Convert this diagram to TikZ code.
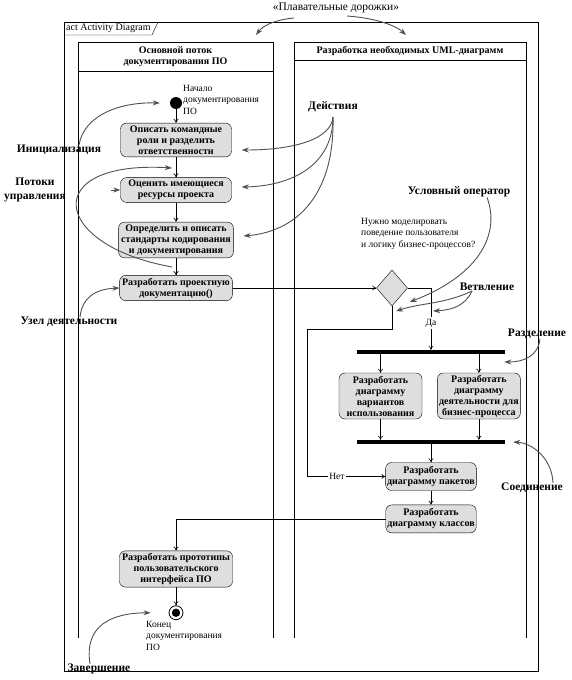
\documentclass[tikz,border=0pt]{standalone}
\usepackage{fontspec}
\setmainfont{Liberation Serif}
\usetikzlibrary{positioning,shapes.geometric,arrows.meta}

\definecolor{actfill}{RGB}{222,222,222}
\definecolor{notegray}{RGB}{80,80,80}

\tikzset{
  action/.style={draw, rounded corners=6pt, fill=actfill, minimum width=111pt,
    align=center, inner sep=2.5pt, font=\bfseries\fontsize{10}{11}\selectfont},
  small/.style={action, minimum width=83pt, minimum height=46pt, inner sep=1.5pt},
  wide/.style={action, minimum width=90pt, minimum height=28pt, inner sep=1.5pt},
  bar/.style={fill=black, minimum width=148pt, minimum height=4pt, inner sep=0pt},
  decision/.style={diamond, draw, fill=actfill, minimum width=31pt, minimum height=36pt, inner sep=0pt},
  initial/.style={circle, fill=black, minimum size=12pt, inner sep=0pt},
  final/.style={circle, draw, line width=0.8pt, minimum size=14pt, inner sep=0pt,
    path picture={\fill (path picture bounding box.center) circle (4.2pt);}},
  lanetitle/.style={align=center, font=\bfseries\fontsize{10}{11}\selectfont},
  note/.style={align=left, inner sep=0pt, font=\fontsize{9.5}{11.5}\selectfont},
  remark/.style={align=center, inner sep=0pt, font=\bfseries\fontsize{11.5}{14}\selectfont},
  flow/.style={-{To[length=4pt,width=5pt]}, line width=0.6pt},
  annot/.style={draw=notegray, line width=0.9pt, -{Stealth[length=7pt,width=5pt]}},
}

\begin{document}
\begin{tikzpicture}[x=1pt, y=-1pt]

  \useasboundingbox (0,0) rectangle (571,680);

  % frame and swim lanes
  \draw [line width=0.8pt] (64,22) rectangle (538,671);
  \draw (64,35) -- (152,35) -- (158,22);
  \node (Tab) [anchor=west, inner sep=1pt, font=\fontsize{10}{12}\selectfont] at (65,28.5) {act Activity Diagram};

  \draw (78,638) -- (78,42) -- (273,42) -- (273,638);
  \draw (78,71) -- (273,71);
  \node (LaneL) [lanetitle] at (175.5,56.5) {Основной поток\\документирования ПО};

  \draw (294,638) -- (294,42) -- (526,42) -- (526,638);
  \draw (294,60) -- (526,60);
  \node (LaneR) [lanetitle] at (410,51) {Разработка необходимых UML-диаграмм};

  % left lane
  \node (S) [initial] at (176,103) {};
  \node (SL) [note, anchor=north west] at (183,85) {Начало\\документирования\\ПО};

  \node (A1) [action] at (176,140) {Описать командные\\роли и разделить\\ответственности};
  \node (A2) [action] at (176,190) {Оценить имеющиеся\\ресурсы проекта};
  \node (A3) [action] at (176,240) {Определить и описать\\стандарты кодирования\\и документирования};
  \node (A4) [action] at (176,288) {Разработать проектную\\документацию()};

  \node (D) [action] at (176,569) {Разработать прототипы\\пользовательского\\интерфейса ПО};
  \node (E) [final, below=18pt of D] {};
  \node (EL) [note, anchor=north west] at (146,621) {Конец\\документирования\\ПО};

  % right lane
  \node (Q) [decision] at (392,288) {};
  \node (QL) [note, anchor=north west] at (361,218) {Нужно моделировать\\поведение пользователя\\и логику бизнес-процессов?};

  \node (F1) [bar] at (431,352) {};
  \node (B1) [small] at (380.5,396) {Разработать\\диаграмму\\вариантов\\использования};
  \node (B2) [small, right=15pt of B1] {Разработать\\диаграмму\\деятельности для\\бизнес-процесса};
  \node (F2) [bar] at (431,442) {};

  \node (C1) [wide] at (431,476.5) {Разработать\\диаграмму пакетов};
  \node (C2) [wide, below=14pt of C1] {Разработать\\диаграмму классов};

  \coordinate (N1) at (307,329);

  % control flows
  \draw [flow] (S) -- (A1);
  \draw [flow] (A1) -- (A2);
  \draw [flow] (A2) -- (A3);
  \draw [flow] (A3) -- (A4);
  \draw [flow] (A4) -- (Q);
  \draw [flow] (Q.east) -| (F1);
  \draw [flow] (B1 |- F1.south) -- (B1);
  \draw [flow] (B2 |- F1.south) -- (B2);
  \draw [flow] (B1) -- (B1 |- F2.north);
  \draw [flow] (B2) -- (B2 |- F2.north);
  \draw [flow] (F2) -- (C1);
  \draw [flow] (Q.south) |- (N1) |- (C1.west);
  \draw [flow] (C1) -- (C2);
  \draw [flow] (C2.west) -| (D.north);
  \draw [flow] (D) -- (E);

  \node (Yes) [fill=white, inner sep=1.5pt, font=\fontsize{9.5}{11}\selectfont] at (431,323) {Да};
  \node (No) [fill=white, inner sep=1.5pt, font=\fontsize{9.5}{11}\selectfont] at (337,476.5) {Нет};

  % annotations
  \node (Swim) [remark, font=\fontsize{11.5}{14}\selectfont] at (336,8) {«Плавательные дорожки»};
  \node (Act) [remark] at (333,107) {Действия};
  \node (Init) [remark] at (59,150) {Инициализация};
  \node (Flows) [remark] at (35,190) {Потоки\\управления};
  \node (Node) [remark] at (69,322) {Узел деятельности};
  \node (Cond) [remark] at (459,192) {Условный оператор};
  \node (Branch) [remark] at (487,287) {Ветвление};
  \node (Split) [remark] at (537,334) {Разделение};
  \node (Join) [remark] at (532,488) {Соединение};
  \node (Fin) [remark] at (99,669) {Завершение};

  \coordinate (sw1) at (294,18);
  \coordinate (sw2) at (347,16);
  \coordinate (act0) at (333,117);
  \coordinate (flowA) at (172,168);
  \coordinate (flowB) at (172,267);

  \draw [annot] (sw1) .. controls (272,20) and (262,27) .. (256,35);
  \draw [annot] (sw2) .. controls (375,18) and (395,25) .. (406,35);

  \draw [annot] (act0) .. controls (331,140) and (292,150) .. ([xshift=10pt,yshift=-10pt]A1.east);
  \draw [annot] (act0) .. controls (333,165) and (292,186) .. ([xshift=10pt,yshift=3pt]A2.east);
  \draw [annot] (act0) .. controls (335,200) and (292,232) .. ([xshift=10pt,yshift=4pt]A3.east);

  \draw [annot] ([xshift=20pt]Init.north) .. controls (84,115) and (120,102) .. ([xshift=-10pt]S.west);
  \draw [annot] ([xshift=-9pt]A2.west) -- (A2.west);
  \draw [annot, {Stealth[length=7pt,width=5pt]}-] (flowA) .. controls (40,160) and (50,245) .. (flowB);
  \draw [annot] ([xshift=11pt]Node.north) .. controls (82,298) and (95,289) .. (A4.west);

  \draw [annot] ([xshift=28pt]Cond.south) .. controls (500,232) and (482,274) .. ([xshift=2pt,yshift=-14pt]Q.east);
  \draw [annot] ([xshift=-15pt]Branch.south) .. controls (445,304) and (420,303) .. ([xshift=4pt,yshift=-5pt]Q.south);
  \draw [annot] ([xshift=-15pt]Branch.south) .. controls (465,306) and (452,310) .. (433,311);

  \draw [annot] ([xshift=3pt]Split.south) .. controls (538,356) and (524,362) .. ([xshift=-1pt,yshift=-10pt]F1.east);
  \draw [annot] ([xshift=21pt]Join.north) .. controls (552,458) and (532,443) .. ([xshift=8pt]F2.east);
  \draw [annot] ([xshift=-9pt]Fin.north) .. controls (84,625) and (112,613) .. ([xshift=-18pt]E.west);

\end{tikzpicture}
\end{document}
